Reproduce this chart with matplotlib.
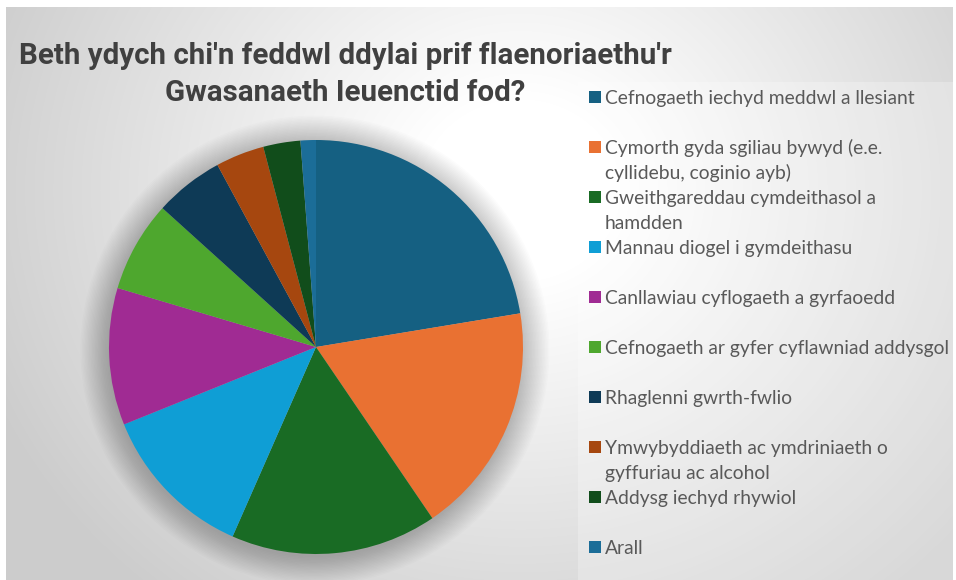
import numpy as np
import matplotlib
matplotlib.use("Agg")
import matplotlib.pyplot as plt
from matplotlib.patches import Rectangle, Circle

# ---- data ----
categories = [
    "Cefnogaeth iechyd meddwl a llesiant",
    "Cymorth gyda sgiliau bywyd (e.e. cyllidebu, coginio ayb)",
    "Gweithgareddau cymdeithasol a hamdden",
    "Mannau diogel i gymdeithasu",
    "Canllawiau cyflogaeth a gyrfaoedd",
    "Cefnogaeth ar gyfer cyflawniad addysgol",
    "Rhaglenni gwrth-fwlio",
    "Ymwybyddiaeth ac ymdriniaeth o gyffuriau ac alcohol",
    "Addysg iechyd rhywiol",
    "Arall",
]
values = [22.4, 18.1, 16.1, 12.3, 10.7, 7.1, 5.4, 3.8, 2.9, 1.2]
colors = ["#156082", "#E97132", "#196B24", "#0F9ED5", "#A02B93",
          "#4EA72E", "#0E3A56", "#A6470F", "#114D1B", "#1B6D98"]
legend_lines = [
    ["Cefnogaeth iechyd meddwl a llesiant"],
    ["Cymorth gyda sgiliau bywyd (e.e.", "cyllidebu, coginio ayb)"],
    ["Gweithgareddau cymdeithasol a", "hamdden"],
    ["Mannau diogel i gymdeithasu"],
    ["Canllawiau cyflogaeth a gyrfaoedd"],
    ["Cefnogaeth ar gyfer cyflawniad addysgol"],
    ["Rhaglenni gwrth-fwlio"],
    ["Ymwybyddiaeth ac ymdriniaeth o", "gyffuriau ac alcohol"],
    ["Addysg iechyd rhywiol"],
    ["Arall"],
]
title_lines = ["Beth ydych chi'n feddwl ddylai prif flaenoriaethu'r",
               "Gwasanaeth Ieuenctid fod?"]

W, H = 956, 580
fig = plt.figure(figsize=(W / 100, H / 100), dpi=100)
renderer = fig.canvas.get_renderer()


def fit_width(t, target_px):
    bb = t.get_window_extent(renderer)
    t.set_fontsize(t.get_fontsize() * target_px / bb.width)
    return t.get_fontsize()


# background with radial gradient
bg = fig.add_axes([0, 0, 1, 1])
bg.set_axis_off()
yy, xx = np.mgrid[0:H, 0:W]
d = np.hypot(xx - 520, (yy - 190) * 1.1)
v = 1 - 0.20 * np.clip((d - 100) / 480, 0, 1)
img = np.dstack([v, v, v])
img[:7, :] = 1
img[:, :6] = 1
img[:, 953:] = 1
bg.imshow(img, extent=[0, W, H, 0], aspect="auto", interpolation="bilinear")
bg.set_xlim(0, W)
bg.set_ylim(H, 0)
bg.add_patch(Rectangle((578, 82), 375, 498, facecolor="white", alpha=0.25,
                       edgecolor="none"))

title_font = ["Roboto", "DejaVu Sans"]
text_font = ["Lato", "DejaVu Sans"]

t1 = bg.text(345, 64, title_lines[0], ha="center", va="baseline", fontsize=20,
             fontweight="bold", color="#404040", family=title_font)
fs_title = fit_width(t1, 650)
bg.text(345, 101, title_lines[1], ha="center", va="baseline", fontsize=fs_title,
        fontweight="bold", color="#404040", family=title_font)

# legend
fs_leg = None
for i, (lines, col) in enumerate(zip(legend_lines, colors)):
    y0 = 97 + 50 * i
    bg.add_patch(Rectangle((589, y0 - 6), 12, 12, facecolor=col, edgecolor="none"))
    for j, ln in enumerate(lines):
        t = bg.text(605, y0 + 7 + 25 * j, ln, ha="left", va="baseline",
                    fontsize=fs_leg or 14, color="#595959", family=text_font)
        if fs_leg is None:
            fs_leg = fit_width(t, 312)

# pie
cx, cy, r = 316, 347, 207
ax = fig.add_axes([(cx - r * 1.15) / W, 1 - (cy + r * 1.15) / H,
                   2.3 * r / W, 2.3 * r / H])
ax.set_axis_off()
for k in range(20):
    ax.add_patch(Circle((-0.005, -0.015), 1.0 + 0.007 * k, facecolor="black",
                        alpha=0.012, edgecolor="none", zorder=0))
ax.pie(values, colors=colors, startangle=90, counterclock=False, radius=1,
       wedgeprops=dict(linewidth=0, zorder=2))
ax.set_xlim(-1.15, 1.15)
ax.set_ylim(-1.15, 1.15)

fig.savefig("out.png", dpi=100)
